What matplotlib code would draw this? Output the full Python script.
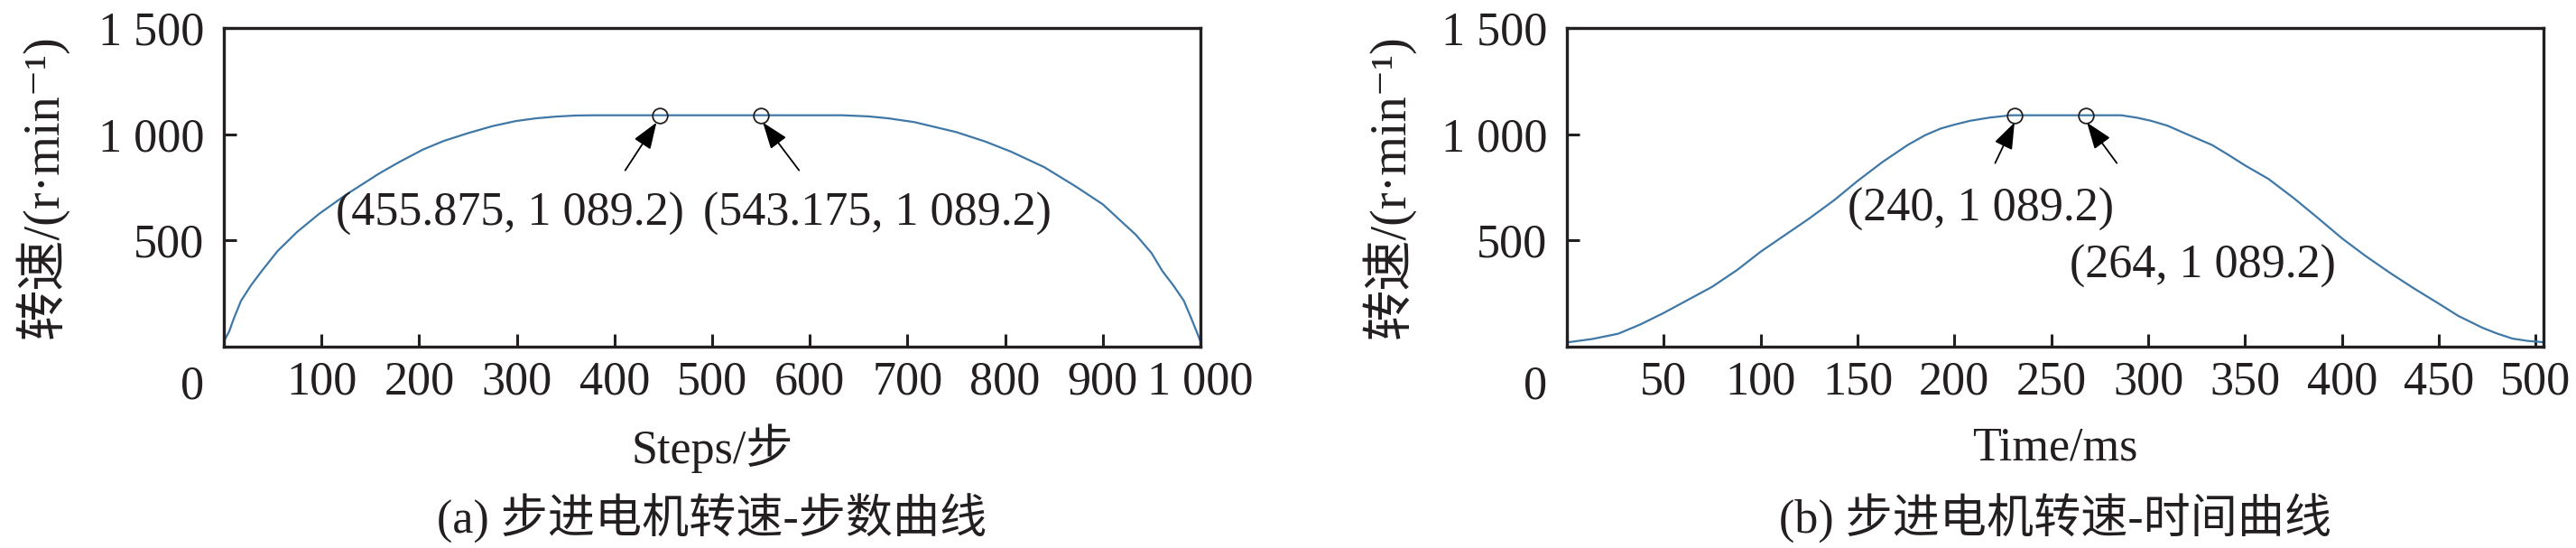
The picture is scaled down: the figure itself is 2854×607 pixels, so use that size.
import matplotlib
matplotlib.use('Agg')
import matplotlib.pyplot as plt

plt.rcParams['font.family'] = ['Liberation Serif', 'Noto Sans CJK SC', 'DejaVu Serif']

INK = '#231f20'
LINE = '#3f78a6'

# (a) speed vs steps
steps = [0, 5.5, 10, 17.6, 28, 38.8, 55, 75, 97.5, 125, 159, 180, 204, 225, 250,
         275, 299, 320, 340, 360, 380,
         633, 660, 680, 707, 750, 780, 806, 840, 872, 900, 934, 950, 961, 972,
         983, 990, 996, 1000]
speed_a = [25, 72, 130, 216, 290, 356, 450, 540, 625, 715, 815, 870, 928, 968, 1005,
           1038, 1062, 1075, 1083, 1088, 1089.2,
           1089.2, 1084, 1075, 1057, 1010, 965, 918, 845, 755, 670, 526, 440, 356, 290,
           216, 140, 72, 25]
mark_a_x = [446, 550]
mark_a_y = [1089.2, 1089.2]
text_a = ['(455.875, 1 089.2)', '(543.175, 1 089.2)']

# (b) speed vs time
time_ms = [0, 13, 26.5, 38, 50, 62, 75, 88, 100, 112, 125, 138, 150, 163, 176, 185,
           193, 200, 208, 218, 229,
           286, 294, 301.5, 310, 320, 333, 341, 350, 362, 375, 387, 400, 412, 425,
           437, 449, 460, 472.5, 480, 488, 496, 504]
speed_b = [20, 36, 61, 105, 159, 218, 282, 362, 447, 522, 603, 690, 780, 870, 950, 996,
           1027, 1045, 1063, 1078, 1089.2,
           1089.2, 1078, 1063, 1040, 1000, 949, 905, 853, 790, 700, 610, 510, 428, 346,
           275, 208, 145, 89, 62, 38, 27, 21]
mark_b_x = [231, 268]
mark_b_y = [1089.2, 1089.2]
text_b = ['(240, 1 089.2)', '(264, 1 089.2)']

xt_a = [0, 100, 200, 300, 400, 500, 600, 700, 800, 900, 1000]
xl_a = ['', '100', '200', '300', '400', '500', '600', '700', '800', '900', '1 000']
xt_b = [0, 50, 100, 150, 200, 250, 300, 350, 400, 450, 500]
xl_b = ['', '50', '100', '150', '200', '250', '300', '350', '400', '450', '500']
yt = [500, 1000, 1500]
yl = ['500', '1 000', '1 500']

W, H = 2854, 607
fig = plt.figure(figsize=(W / 100, H / 100), dpi=100)
FS = 37.5


def px_axes(l, r, t, b):
    return fig.add_axes([l / W, 1 - b / H, (r - l) / W, (b - t) / H])


def style(ax, xmax, xt, xl):
    ax.set_xlim(0, xmax)
    ax.set_ylim(0, 1500)
    ax.set_xticks(xt)
    ax.set_xticklabels(xl)
    ax.set_yticks(yt)
    ax.set_yticklabels(yl)
    for s in ax.spines.values():
        s.set_linewidth(2.4)
        s.set_color(INK)
    ax.tick_params(axis='both', direction='in', length=10, width=2.2,
                   colors=INK, labelsize=FS)
    ax.tick_params(axis='x', pad=11)
    ax.tick_params(axis='y', pad=15.5)
    ax.annotate('0', xy=(0, 0), xycoords=('data', 'axes fraction'),
                xytext=(-35, -44), textcoords='offset pixels',
                ha='center', va='center', fontsize=FS, color=INK)


def arrow(ax, tip, tail):
    ax.annotate('', xy=tip, xytext=tail,
                arrowprops=dict(arrowstyle='-|>,head_length=0.9,head_width=0.33',
                                color='black', lw=1.3, mutation_scale=20,
                                shrinkA=0, shrinkB=0))


ax1 = px_axes(248, 1330, 31, 384)
ax1.plot(steps, speed_a, color=LINE, lw=1.6)
ax1.plot(mark_a_x, mark_a_y, 'o', mfc='none', mec=INK, ms=12, mew=1.3)
style(ax1, 1000, xt_a, xl_a)
arrow(ax1, (443, 1055), (411, 830))
arrow(ax1, (552, 1055), (589, 830))
ax1.text(293, 623, text_a[0], ha='center', va='center', fontsize=FS, color=INK)
ax1.text(669, 623, text_a[1], ha='center', va='center', fontsize=FS, color=INK)

ax2 = px_axes(1736, 2818, 31, 384)
ax2.plot(time_ms, speed_b, color=LINE, lw=1.6)
ax2.plot(mark_b_x, mark_b_y, 'o', mfc='none', mec=INK, ms=12, mew=1.3)
style(ax2, 504, xt_b, xl_b)
arrow(ax2, (231, 1055), (221, 864))
arrow(ax2, (268.4, 1055), (283.8, 864))
ax2.text(213.4, 648, text_b[0], ha='center', va='center', fontsize=FS, color=INK)
ax2.text(328, 377, text_b[1], ha='center', va='center', fontsize=FS, color=INK)


def ftext(x, y, s, size=FS, **kw):
    fig.text(x / W, 1 - y / H, s, ha='center', va='center', fontsize=size,
             color=INK, **kw)


ylab = '转速/(r·min⁻¹)'
ftext(46, 207, ylab, size=40.5, rotation=90)
ftext(1538, 207, ylab, size=40.5, rotation=90)
ftext(789, 497, 'Steps/步')
ftext(2277, 497, 'Time/ms')
ftext(789, 574, '(a) 步进电机转速-步数曲线')
ftext(2277, 574, '(b) 步进电机转速-时间曲线')

fig.savefig('out.png', dpi=100)
